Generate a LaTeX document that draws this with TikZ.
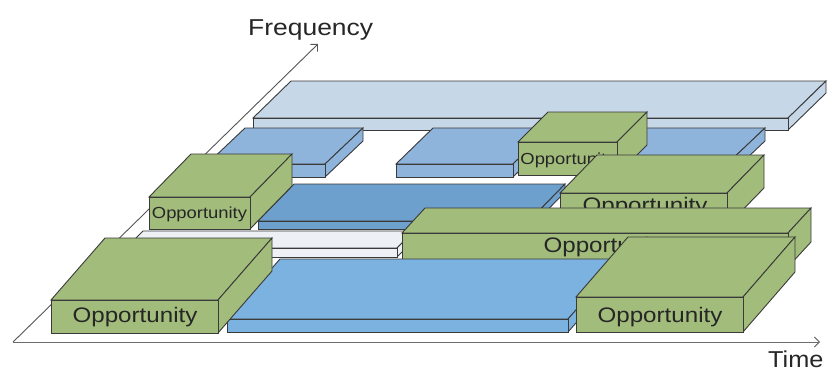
\documentclass[tikz,border=0pt]{standalone}
\usepackage{fontspec}
\setmainfont{Liberation Sans}
\usepackage{graphicx}
\usetikzlibrary{arrows.meta}
\definecolor{clA}{HTML}{C6D7E8}
\definecolor{clB}{HTML}{8EB4DC}
\definecolor{clF}{HTML}{6DA0CC}
\definecolor{clK}{HTML}{7CB2DF}
\definecolor{clH}{HTML}{EDF1F5}
\definecolor{clG}{HTML}{A2BC7B}
\definecolor{edge}{HTML}{3A3A3A}
\definecolor{txt}{HTML}{262626}
\definecolor{axis}{HTML}{555555}
\newcommand{\hs}[1]{\scalebox{1.15}[1]{#1}}
% x1, x2, ytop, ybot, dx, dy (up), colour
\newcommand{\oblbox}[7]{%
  \filldraw[boxline,fill=#7] (#1,#3) -- (#2,#3) -- ({#2+#5},{#3-#6}) -- ({#1+#5},{#3-#6}) -- cycle;
  \filldraw[boxline,fill=#7] (#2,#3) -- (#2,#4) -- ({#2+#5},{#4-#6}) -- ({#2+#5},{#3-#6}) -- cycle;
  \filldraw[boxline,fill=#7] (#1,#3) rectangle (#2,#4);
}
\tikzset{
  boxline/.style={draw=edge, line width=0.9pt, line join=miter},
  opbig/.style={anchor=base, inner sep=0pt, text=txt, font=\fontsize{21}{24}\selectfont},
  opsmall/.style={anchor=base, inner sep=0pt, text=txt, font=\fontsize{16}{18}\selectfont},
  axlabel/.style={anchor=base west, inner sep=0pt, text=txt, font=\fontsize{23}{26}\selectfont},
  axisline/.style={draw=axis, line width=0.9pt, -{Straight Barb[length=5pt,width=10pt]}}
}
\begin{document}
\begin{tikzpicture}[x=1pt,y=-1pt]
\useasboundingbox (0,0) rectangle (835,372);
% axes
\coordinate (O) at (13,342);
\coordinate (Ftip) at (318,44);
\coordinate (Ttip) at (820,342);
\draw[axisline] (O) -- (Ftip);
\draw[axisline, draw=gray!85!black] (O) -- (Ttip);
\node[axlabel] (freq) at (248,35) {\hs{Frequency}};
\node[axlabel] (time) at (768,367) {\scalebox{1.1}[1]{Time}};
% back row
\oblbox{253}{788}{118}{130}{38}{37}{clA}
% second row
\oblbox{207}{325}{164}{177}{38}{36}{clB}
\oblbox{396}{513}{164}{177}{37}{36}{clB}
\oblbox{590}{727}{164}{177}{38}{36}{clB}
\oblbox{518}{617}{142}{175}{30}{30}{clG}
\node[opsmall] (tD) at (568,164) {\hs{Opportunity}};
% third row
\oblbox{258}{529}{221}{229}{36}{37}{clF}
\oblbox{149}{250}{197}{229}{42}{43}{clG}
\node[opsmall] (tC) at (199.5,218) {\hs{Opportunity}};
\oblbox{560}{727}{193}{226}{37}{38}{clG}
\node[opbig] (tE) at (645,212) {\hs{Opportunity}};
% fourth row
\oblbox{126}{397}{248}{257}{17}{17}{clH}
\oblbox{402}{788}{233}{267}{23}{25}{clG}
\node[opbig] (tG) at (606,252) {\hs{Opportunity}};
% front row
\oblbox{227}{568}{319}{332}{53}{60}{clK}
\oblbox{51}{218}{300}{333}{54}{62}{clG}
\node[opbig] (tI) at (135,322) {\hs{Opportunity}};
\oblbox{576}{743}{297}{332}{52}{60}{clG}
\node[opbig] (tJ) at (660,322) {\hs{Opportunity}};
\end{tikzpicture}
\end{document}
